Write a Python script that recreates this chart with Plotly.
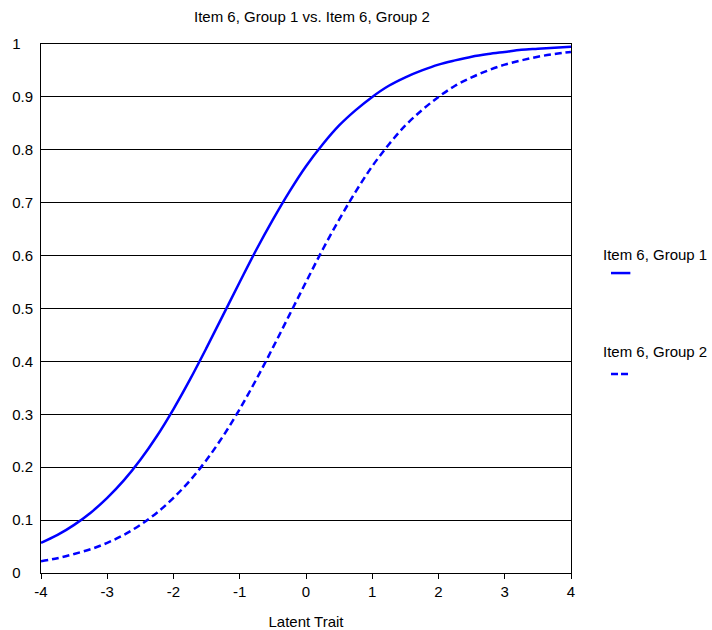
import plotly.graph_objects as go

theta = [-4, -3.75, -3.5, -3.25, -3, -2.75, -2.5, -2.25, -2, -1.75, -1.5, -1.25, -1,
         -0.75, -0.5, -0.25, 0, 0.25, 0.5, 0.75, 1, 1.25, 1.5, 1.75, 2, 2.25, 2.5,
         2.75, 3, 3.25, 3.5, 3.75, 4]
group1 = [0.057, 0.072, 0.091, 0.114, 0.142, 0.175, 0.214, 0.259, 0.310, 0.366, 0.426,
          0.488, 0.550, 0.611, 0.668, 0.721, 0.769, 0.810, 0.846, 0.875, 0.900, 0.921,
          0.937, 0.950, 0.961, 0.969, 0.976, 0.981, 0.985, 0.989, 0.991, 0.993, 0.995]
group2 = [0.022, 0.028, 0.036, 0.045, 0.057, 0.072, 0.091, 0.114, 0.142, 0.175, 0.214,
          0.259, 0.310, 0.366, 0.426, 0.488, 0.550, 0.611, 0.668, 0.721, 0.769, 0.810,
          0.846, 0.875, 0.900, 0.921, 0.937, 0.950, 0.961, 0.969, 0.976, 0.981, 0.985]
series_names = ["Item 6, Group 1", "Item 6, Group 2"]
x_ticks = [-4, -3, -2, -1, 0, 1, 2, 3, 4]
y_ticks = [0, 0.1, 0.2, 0.3, 0.4, 0.5, 0.6, 0.7, 0.8, 0.9, 1]
y_tick_labels = ["0", "0.1", "0.2", "0.3", "0.4", "0.5", "0.6", "0.7", "0.8", "0.9", "1"]

BLUE = "#0000FF"
FONT = "Liberation Sans, Arial, sans-serif"
FS = 15
NB = "\u00a0"

# pad single-digit labels so they appear left-aligned like the original
y_text = [t if len(t) > 1 else t + NB * 3 for t in y_tick_labels]

W, H = 712, 630

fig = go.Figure()
fig.add_trace(go.Scatter(x=theta, y=group1, mode="lines", name=series_names[0],
                         line=dict(color=BLUE, width=2.5, shape="spline"), showlegend=False))
fig.add_trace(go.Scatter(x=theta, y=group2, mode="lines", name=series_names[1],
                         line=dict(color=BLUE, width=2.5, dash="7px,4px", shape="spline"),
                         showlegend=False))

# legend drawn as text with line samples beneath
legend_items = [(series_names[0], 0.603, 0.567, "solid"),
                (series_names[1], 0.418, 0.376, "7px,3px")]
for name, ty, ly, dash in legend_items:
    fig.add_annotation(xref="paper", yref="paper", x=1.056, y=ty, text=name,
                       showarrow=False, xanchor="left", yanchor="middle",
                       font=dict(family=FONT, size=FS, color="black"))
    fig.add_shape(type="line", xref="paper", yref="paper", x0=1.0755, x1=1.112,
                  y0=ly, y1=ly, line=dict(color=BLUE, width=2.5, dash=dash))

fig.update_layout(
    width=W, height=H,
    margin=dict(l=41, r=141, t=44, b=57),
    paper_bgcolor="white", plot_bgcolor="white",
    font=dict(family=FONT, size=FS, color="black"),
    title=dict(text="Item 6, Group 1 vs. Item 6, Group 2", x=312 / W,
               xanchor="center", y=1 - 17 / H, yanchor="middle",
               font=dict(family=FONT, size=FS, color="black")),
    xaxis=dict(range=[-4, 4], tickvals=x_ticks, ticktext=[str(v) for v in x_ticks],
               showgrid=False, zeroline=False, showline=True, linecolor="black",
               linewidth=1, mirror=True, ticks="outside", ticklen=5, tickcolor="black",
               automargin=False,
               title=dict(text="Latent Trait", standoff=18,
                          font=dict(family=FONT, size=FS, color="black"))),
    yaxis=dict(range=[0, 1], tickvals=y_ticks, ticktext=y_text,
               showgrid=True, gridcolor="black", gridwidth=1, zeroline=False,
               showline=True, linecolor="black", linewidth=1, mirror=True,
               ticks="", ticklabelstandoff=4, automargin=False),
)

fig.write_html("out.html", config={"displayModeBar": False},
               post_script="document.body.style.margin='0';")
